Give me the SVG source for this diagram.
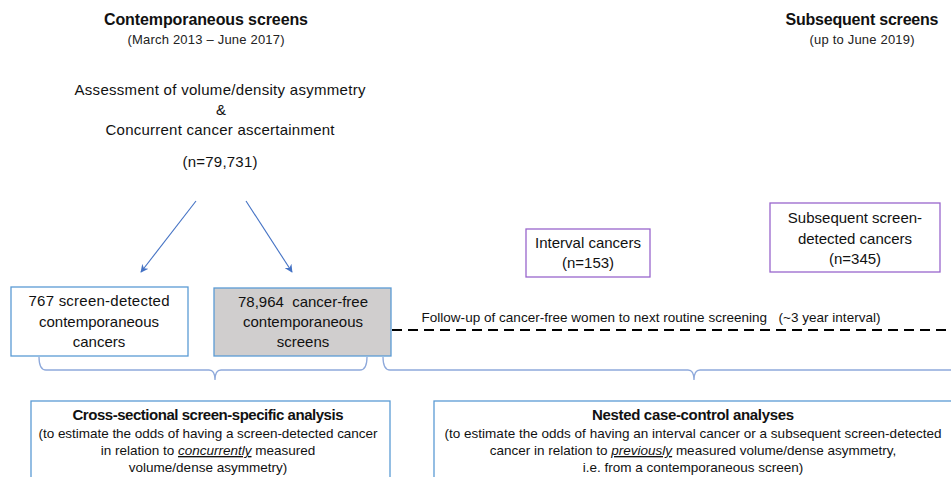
<svg xmlns="http://www.w3.org/2000/svg" width="951" height="477" viewBox="0 0 951 477">
<style>
text{font-family:"Liberation Sans",Arial,sans-serif;fill:#111;text-anchor:middle}
.h{font-weight:bold;font-size:16px}
.s{font-size:13px;fill:#222}
.b{font-size:15px}
.f{font-size:13.5px}
.pre{white-space:pre}
.blue{fill:#fff;stroke:#5B9BD5;stroke-width:1.3}
.grey{fill:#D0CECE;stroke:#5B9BD5;stroke-width:1.3}
.pur{fill:#fff;stroke:#9966CC;stroke-width:1.3}
.brace{fill:none;stroke:#8EA9DB;stroke-width:1.3}
.arr{stroke:#4472C4;stroke-width:1.1;fill:none}
.em{font-style:italic;text-decoration:underline}
</style>
<defs>
<marker id="ah" viewBox="0 0 10 10" refX="9" refY="5" markerWidth="8" markerHeight="8" orient="auto" markerUnits="userSpaceOnUse">
<path d="M0,0 L10,5 L0,10 L3,5 Z" fill="#4472C4"/>
</marker>
</defs>

<g id="title-left">
<text class="h" x="206" y="25" textLength="204">Contemporaneous screens</text>
<text class="s" x="206" y="44" textLength="157">(March 2013 – June 2017)</text>
</g>
<g id="title-right">
<text class="h" x="862" y="25" textLength="153">Subsequent screens</text>
<text class="s" x="862" y="44" textLength="105">(up to June 2019)</text>
</g>

<g id="assessment">
<text class="b" x="220" y="95" textLength="291">Assessment of volume/density asymmetry</text>
<text class="b" x="221" y="115">&amp;</text>
<text class="b" x="220" y="135" textLength="229">Concurrent cancer ascertainment</text>
<text class="b" x="220" y="167" textLength="75">(n=79,731)</text>
</g>

<g id="connectors">
<line class="arr" x1="196" y1="201" x2="141" y2="272" marker-end="url(#ah)"/>
<line class="arr" x1="246" y1="201" x2="292" y2="272" marker-end="url(#ah)"/>
<line x1="392" y1="330" x2="951" y2="330" stroke="#000" stroke-width="2" stroke-dasharray="10,6"/>
<path class="brace" d="M39,357 Q39,370 46,370 L209,370 Q215,370 215,380 Q215,370 221,370 L360,370 Q367,370 367,357"/>
<path class="brace" d="M383,357 Q383,370 390,370 L688,370 Q694,370 694,380 Q694,370 700,370 L960,370"/>
</g>

<g id="sd-cancers">
<rect class="blue" x="11" y="287" width="177" height="69"/>
<text class="b" x="99" y="306" textLength="141">767 screen-detected</text>
<text class="b" x="99" y="327">contemporaneous</text>
<text class="b" x="99" y="347">cancers</text>
</g>

<g id="cancer-free">
<rect class="grey" x="214" y="288" width="177" height="68"/>
<text class="b pre" x="303" y="307">78,964  cancer-free</text>
<text class="b" x="303" y="327">contemporaneous</text>
<text class="b" x="303" y="347">screens</text>
</g>

<g id="interval">
<rect class="pur" x="526" y="229" width="124" height="48"/>
<text class="b" x="588" y="248">Interval cancers</text>
<text class="b" x="588" y="268">(n=153)</text>
</g>

<g id="subsequent">
<rect class="pur" x="770" y="203" width="170" height="69"/>
<text class="b" x="855" y="223">Subsequent screen-</text>
<text class="b" x="855" y="244">detected cancers</text>
<text class="b" x="855" y="264">(n=345)</text>
</g>

<g id="follow-up-label">
<text class="f pre" x="651" y="322" textLength="459">Follow-up of cancer-free women to next routine screening   (~3 year interval)</text>
</g>

<g id="cross-sectional">
<rect class="blue" x="31" y="401" width="359" height="100"/>
<text class="b" x="208" y="420" font-weight="bold" textLength="271">Cross-sectional screen-specific analysis</text>
<text class="f" x="208" y="438" textLength="339">(to estimate the odds of having a screen-detected cancer</text>
<text class="f" x="208" y="455">in relation to <tspan class="em">concurrently</tspan> measured</text>
<text class="f" x="208" y="472">volume/dense asymmetry)</text>
</g>

<g id="nested">
<rect class="blue" x="434" y="401" width="560" height="100"/>
<text class="b" x="693" y="420" font-weight="bold" textLength="202">Nested case-control analyses</text>
<text class="f" x="693" y="438" textLength="497">(to estimate the odds of having an interval cancer or a subsequent screen-detected</text>
<text class="f" x="693" y="455">cancer in relation to <tspan class="em">previously</tspan> measured volume/dense asymmetry,</text>
<text class="f" x="693" y="472">i.e. from a contemporaneous screen)</text>
</g>
</svg>
